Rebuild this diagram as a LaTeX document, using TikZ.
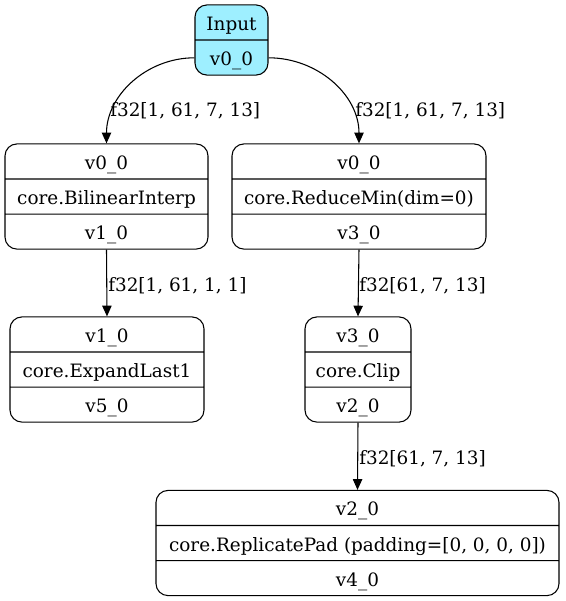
\documentclass[tikz,border=0pt]{standalone}
\usepackage{fontspec}
\setmainfont{DejaVu Serif}
\usetikzlibrary{shapes.multipart,arrows.meta,calc}

\definecolor{inputcyan}{HTML}{9EEFFF}
\newcommand{\pstrut}{\rule[-6.75pt]{0pt}{25.5pt}}

\tikzset{
  rec/.style={draw, rectangle split, rectangle split parts=3, rounded corners=9pt,
    inner ysep=0pt, inner xsep=3pt, line width=0.8pt, font=\fontsize{13.8}{16}\selectfont},
  lbl/.style={anchor=west, inner sep=0pt, font=\fontsize{13.8}{16}\selectfont},
  edge/.style={->, line width=0.8pt}
}

\begin{document}
\begin{tikzpicture}[x=0.75pt, y=-0.75pt, >={Triangle[length=8pt,width=7pt]}]
  \useasboundingbox (0,0) rectangle (566,601);

  % Wejście
  \node[rec, rectangle split parts=2, fill=inputcyan, minimum width=54.75pt] (in) at (231.5,40)
    {\pstrut Input \nodepart{two}\pstrut v0\_0};

  % Węzły operacji
  \node[rec, minimum width=152.25pt] (bil) at (106.5,196.5)
    {\pstrut v0\_0 \nodepart{two}\pstrut core.BilinearInterp \nodepart{three}\pstrut v1\_0};
  \node[rec, minimum width=190.5pt] (rmin) at (359,196.5)
    {\pstrut v0\_0 \nodepart{two}\pstrut core.ReduceMin(dim=0) \nodepart{three}\pstrut v3\_0};
  \node[rec, minimum width=145.5pt] (exp) at (107,369.5)
    {\pstrut v1\_0 \nodepart{two}\pstrut core.ExpandLast1 \nodepart{three}\pstrut v5\_0};
  \node[rec, minimum width=79.5pt] (clip) at (358,369.5)
    {\pstrut v3\_0 \nodepart{two}\pstrut core.Clip \nodepart{three}\pstrut v2\_0};
  \node[rec, minimum width=302.25pt] (pad) at (357.5,543)
    {\pstrut v2\_0 \nodepart{two}\pstrut core.ReplicatePad (padding=[0, 0, 0, 0]) \nodepart{three}\pstrut v4\_0};

  % Krawędzie
  \draw[edge] ($(in.west)!0.5!(in.south west)$) to[out=180, in=90] (bil.north);
  \draw[edge] ($(in.east)!0.5!(in.south east)$) to[out=0, in=90] (rmin.north);
  \draw[edge] (bil.south) -- (exp.north);
  \draw[edge] (rmin.south) -- (clip.north);
  \draw[edge] (clip.south) -- (pad.north);

  % Etykiety krawędzi
  \node[lbl] (l1) at (110,111) {f32[1, 61, 7, 13]};
  \node[lbl] (l2) at (355,111) {f32[1, 61, 7, 13]};
  \node[lbl] (l3) at (108,286) {f32[1, 61, 1, 1]};
  \node[lbl] (l4) at (359,286) {f32[61, 7, 13]};
  \node[lbl] (l5) at (359,459) {f32[61, 7, 13]};
\end{tikzpicture}
\end{document}
